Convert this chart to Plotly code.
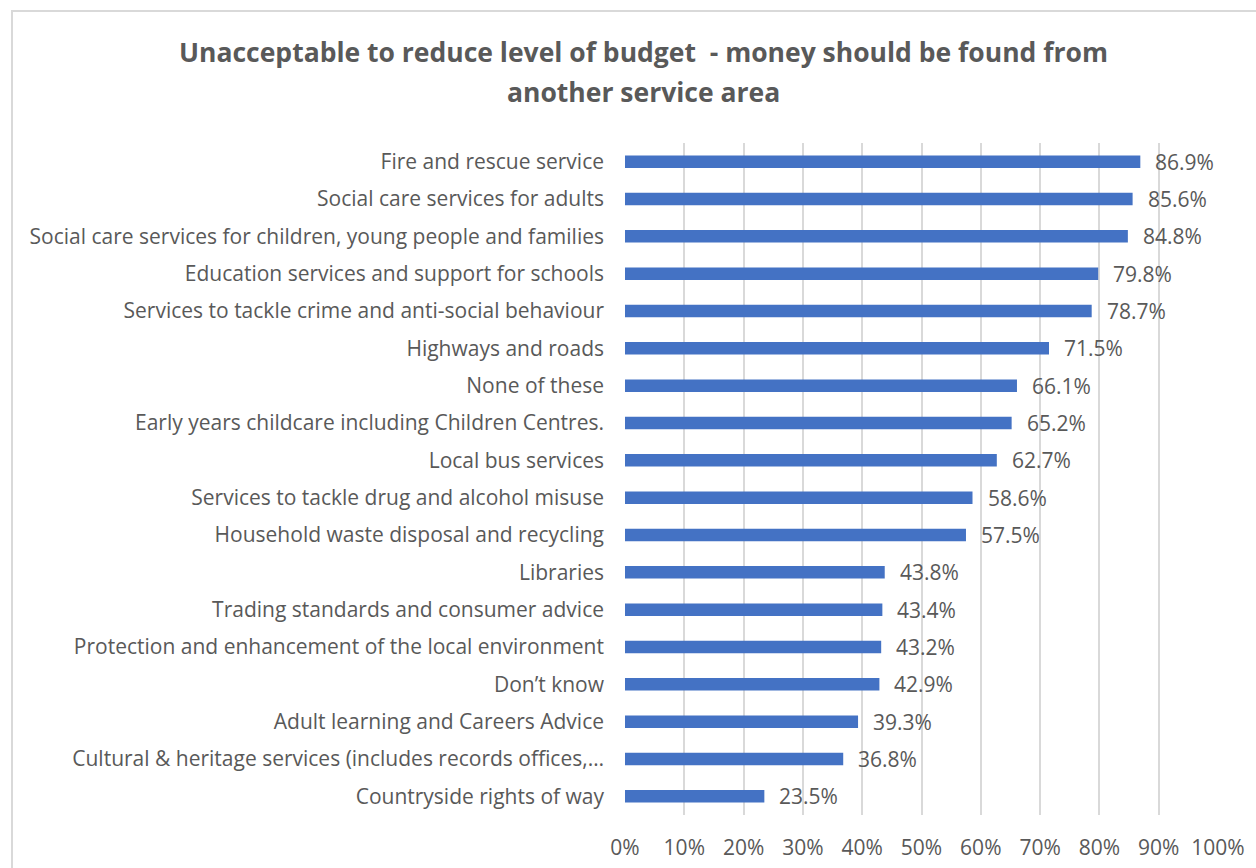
import plotly.graph_objects as go

# Share of respondents saying it is unacceptable to reduce each service's budget
categories = [
    "Fire and rescue service",
    "Social care services for adults",
    "Social care services for children, young people and families",
    "Education services and support for schools",
    "Services to tackle crime and anti-social behaviour",
    "Highways and roads",
    "None of these",
    "Early years childcare including Children Centres.",
    "Local bus services",
    "Services to tackle drug and alcohol misuse",
    "Household waste disposal and recycling",
    "Libraries",
    "Trading standards and consumer advice",
    "Protection and enhancement of the local environment",
    "Don\u2019t know",
    "Adult learning and Careers Advice",
    "Cultural & heritage services (includes records offices,\u2026",
    "Countryside rights of way",
]
values_pct = [86.9, 85.6, 84.8, 79.8, 78.7, 71.5, 66.1, 65.2, 62.7, 58.6,
              57.5, 43.8, 43.4, 43.2, 42.9, 39.3, 36.8, 23.5]
x_ticks = [0, 10, 20, 30, 40, 50, 60, 70, 80, 90, 100]

title_lines = [
    "Unacceptable to reduce level of budget  - money should be found from",
    "another service area",
]

FONT = "'Open Sans', sans-serif"
TEXT = "#595959"
GRID = "#d9d9d9"
BAR = "#4472C4"

fig = go.Figure(
    go.Bar(
        x=[v / 100 for v in values_pct],
        y=categories,
        orientation="h",
        marker=dict(color=BAR, line=dict(width=0)),
        hoverinfo="skip",
    )
)

# Value labels at the end of each bar
for cat, v in zip(categories, values_pct):
    fig.add_annotation(
        x=v / 100, y=cat, xref="x", yref="y",
        text=f"{v:.1f}%", showarrow=False,
        xanchor="left", xshift=13,
        font=dict(family=FONT, size=21, color=TEXT),
    )

# Two-line chart title
for txt, ypos in zip(title_lines, [1.1354, 1.0759]):
    fig.add_annotation(
        x=0.031, y=ypos, xref="paper", yref="paper",
        text=f"<b>{txt}</b>", showarrow=False,
        xanchor="center", yanchor="middle",
        font=dict(family=FONT, size=26.5, color=TEXT),
    )

# Chart frame
fig.add_shape(
    type="rect", xref="paper", yref="paper",
    x0=-1.0337, x1=1.08, y0=1.1964, y1=-0.1,
    line=dict(color=GRID, width=2), fillcolor="rgba(0,0,0,0)", layer="below",
)

fig.update_layout(
    width=1256, height=868,
    margin=dict(l=625, r=38, t=143, b=53, autoexpand=False),
    paper_bgcolor="white", plot_bgcolor="white",
    bargap=0.665,
    showlegend=False,
    font=dict(family=FONT, color=TEXT),
    xaxis=dict(
        range=[0, 1], tickvals=[t / 100 for t in x_ticks],
        ticktext=[f"{t}%" for t in x_ticks],
        showgrid=True, gridcolor=GRID, gridwidth=1.5,
        zeroline=False, showline=False, ticks="",
        ticklabelstandoff=18,
        tickfont=dict(family=FONT, size=21, color=TEXT),
        fixedrange=True,
    ),
    yaxis=dict(
        autorange="reversed", showgrid=False, zeroline=False,
        showline=False, ticks="", ticklabelstandoff=20,
        tickfont=dict(family=FONT, size=21, color=TEXT),
        fixedrange=True,
    ),
)

fig.write_html("out.html")
